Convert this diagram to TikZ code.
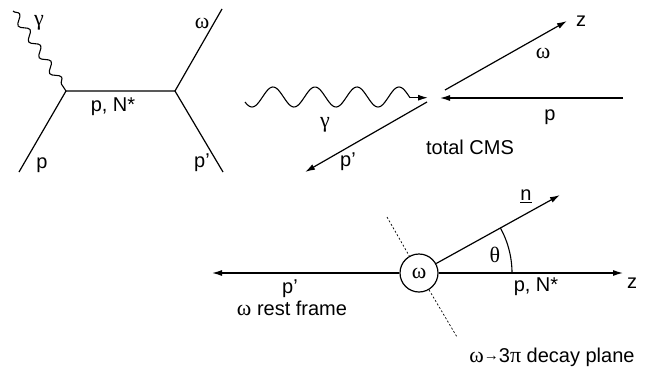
\documentclass[tikz,border=0pt]{standalone}
\usepackage{fontspec}
\setmainfont{Liberation Sans}
\newfontfamily\gk[Scale=1.1]{Liberation Serif}
\usetikzlibrary{arrows.meta,decorations.pathmorphing}
\tikzset{
  ln/.style={line width=1.2pt},
  arr/.style={ln,-{Latex[length=10pt,width=6pt]}},
  lbl/.style={font=\fontsize{20}{22}\selectfont, inner sep=0pt},
  photon/.style={line width=1.1pt, decorate, decoration={snake, segment length=19pt, amplitude=4pt}},
  plane/.style={line width=0.7pt, dash pattern=on 2pt off 2pt}
}
\begin{document}
\begin{tikzpicture}[x=1pt,y=-1pt]
\useasboundingbox (0,0) rectangle (650,367);
% ---------- Feynman diagram ----------
\coordinate (v1) at (66,91);
\coordinate (v2) at (175,91);
\coordinate (pin) at (19,172);
\coordinate (gin) at (13,11);
\coordinate (wout) at (222,9);
\coordinate (ppout) at (223,172);
\draw[ln] (pin) -- (v1) -- (v2) -- (wout);
\draw[ln] (v2) -- (ppout);
\draw[photon] (gin) -- (v1);
\node[lbl] (fg) at (39,23) {\gk γ};
\node[lbl] (fw) at (202,23) {\gk ω};
\node[lbl] (fpn) at (113,107) {p, N*};
\node[lbl] (fp) at (42,165) {p};
\node[lbl] (fpp) at (202,163) {p’};
% ---------- total CMS ----------
\coordinate (gw) at (410,97.7);
\coordinate (gt) at (428,97.7);
\draw[line width=1.1pt] plot[domain=245:410, samples=120, smooth] (\x,{97-10*cos((\x-273)*8.5714)});
\draw[arr] (gw) -- (gt);
\coordinate (pa) at (623,98);
\coordinate (pb) at (440,98);
\draw[arr] (pa) -- (pb);
\coordinate (wa) at (445,90);
\coordinate (wb) at (567,21);
\draw[arr] (wa) -- (wb);
\coordinate (ppa) at (427,102);
\coordinate (ppb) at (305,172);
\draw[arr] (ppa) -- (ppb);
\node[lbl] (cg) at (325,125) {\gk γ};
\node[lbl] (cp) at (550,117) {p};
\node[lbl] (cz) at (581,21) {z};
\node[lbl] (cw) at (543,53) {\gk ω};
\node[lbl] (cpp) at (348,162) {p’};
\node[lbl] (ccms) at (470,147) {total CMS};
% ---------- omega rest frame ----------
\node[circle, draw, line width=1.2pt, minimum size=38pt, inner sep=0pt, font=\fontsize{20}{22}\selectfont\gk] (om) at (419,273) {ω};
\coordinate (rl) at (212,273);
\coordinate (rr) at (623,273);
\coordinate (nt) at (560,195);
\draw[arr] (om) -- (rl);
\draw[arr] (om) -- (rr);
\draw[arr] (om) -- (nt);
\draw[line width=1.1pt] plot[domain=0:28.8, samples=40, smooth] ({419+93*cos(\x)},{273-93*sin(\x)});
\coordinate (d1) at (387,217);
\coordinate (d2) at (457,337);
\draw[plane] (d1) -- (om);
\draw[plane] (om) -- (d2);
\node[lbl] (rz) at (632,283) {z};
\node[lbl] (rn) at (526,196) {\underline{n}};
\node[lbl] (rth) at (495,255) {\gk θ};
\node[lbl] (rpp) at (290,289) {p’};
\node[lbl] (rframe) at (292,308) {{\gk ω} rest frame};
\node[lbl] (rpn) at (536,287) {p, N*};
\node[lbl] (rdec) at (552,357) {{\gk ω}{\fontsize{15}{15}\selectfont\raisebox{1.5pt}{→}}3{\gk π} decay plane};
\end{tikzpicture}
\end{document}
